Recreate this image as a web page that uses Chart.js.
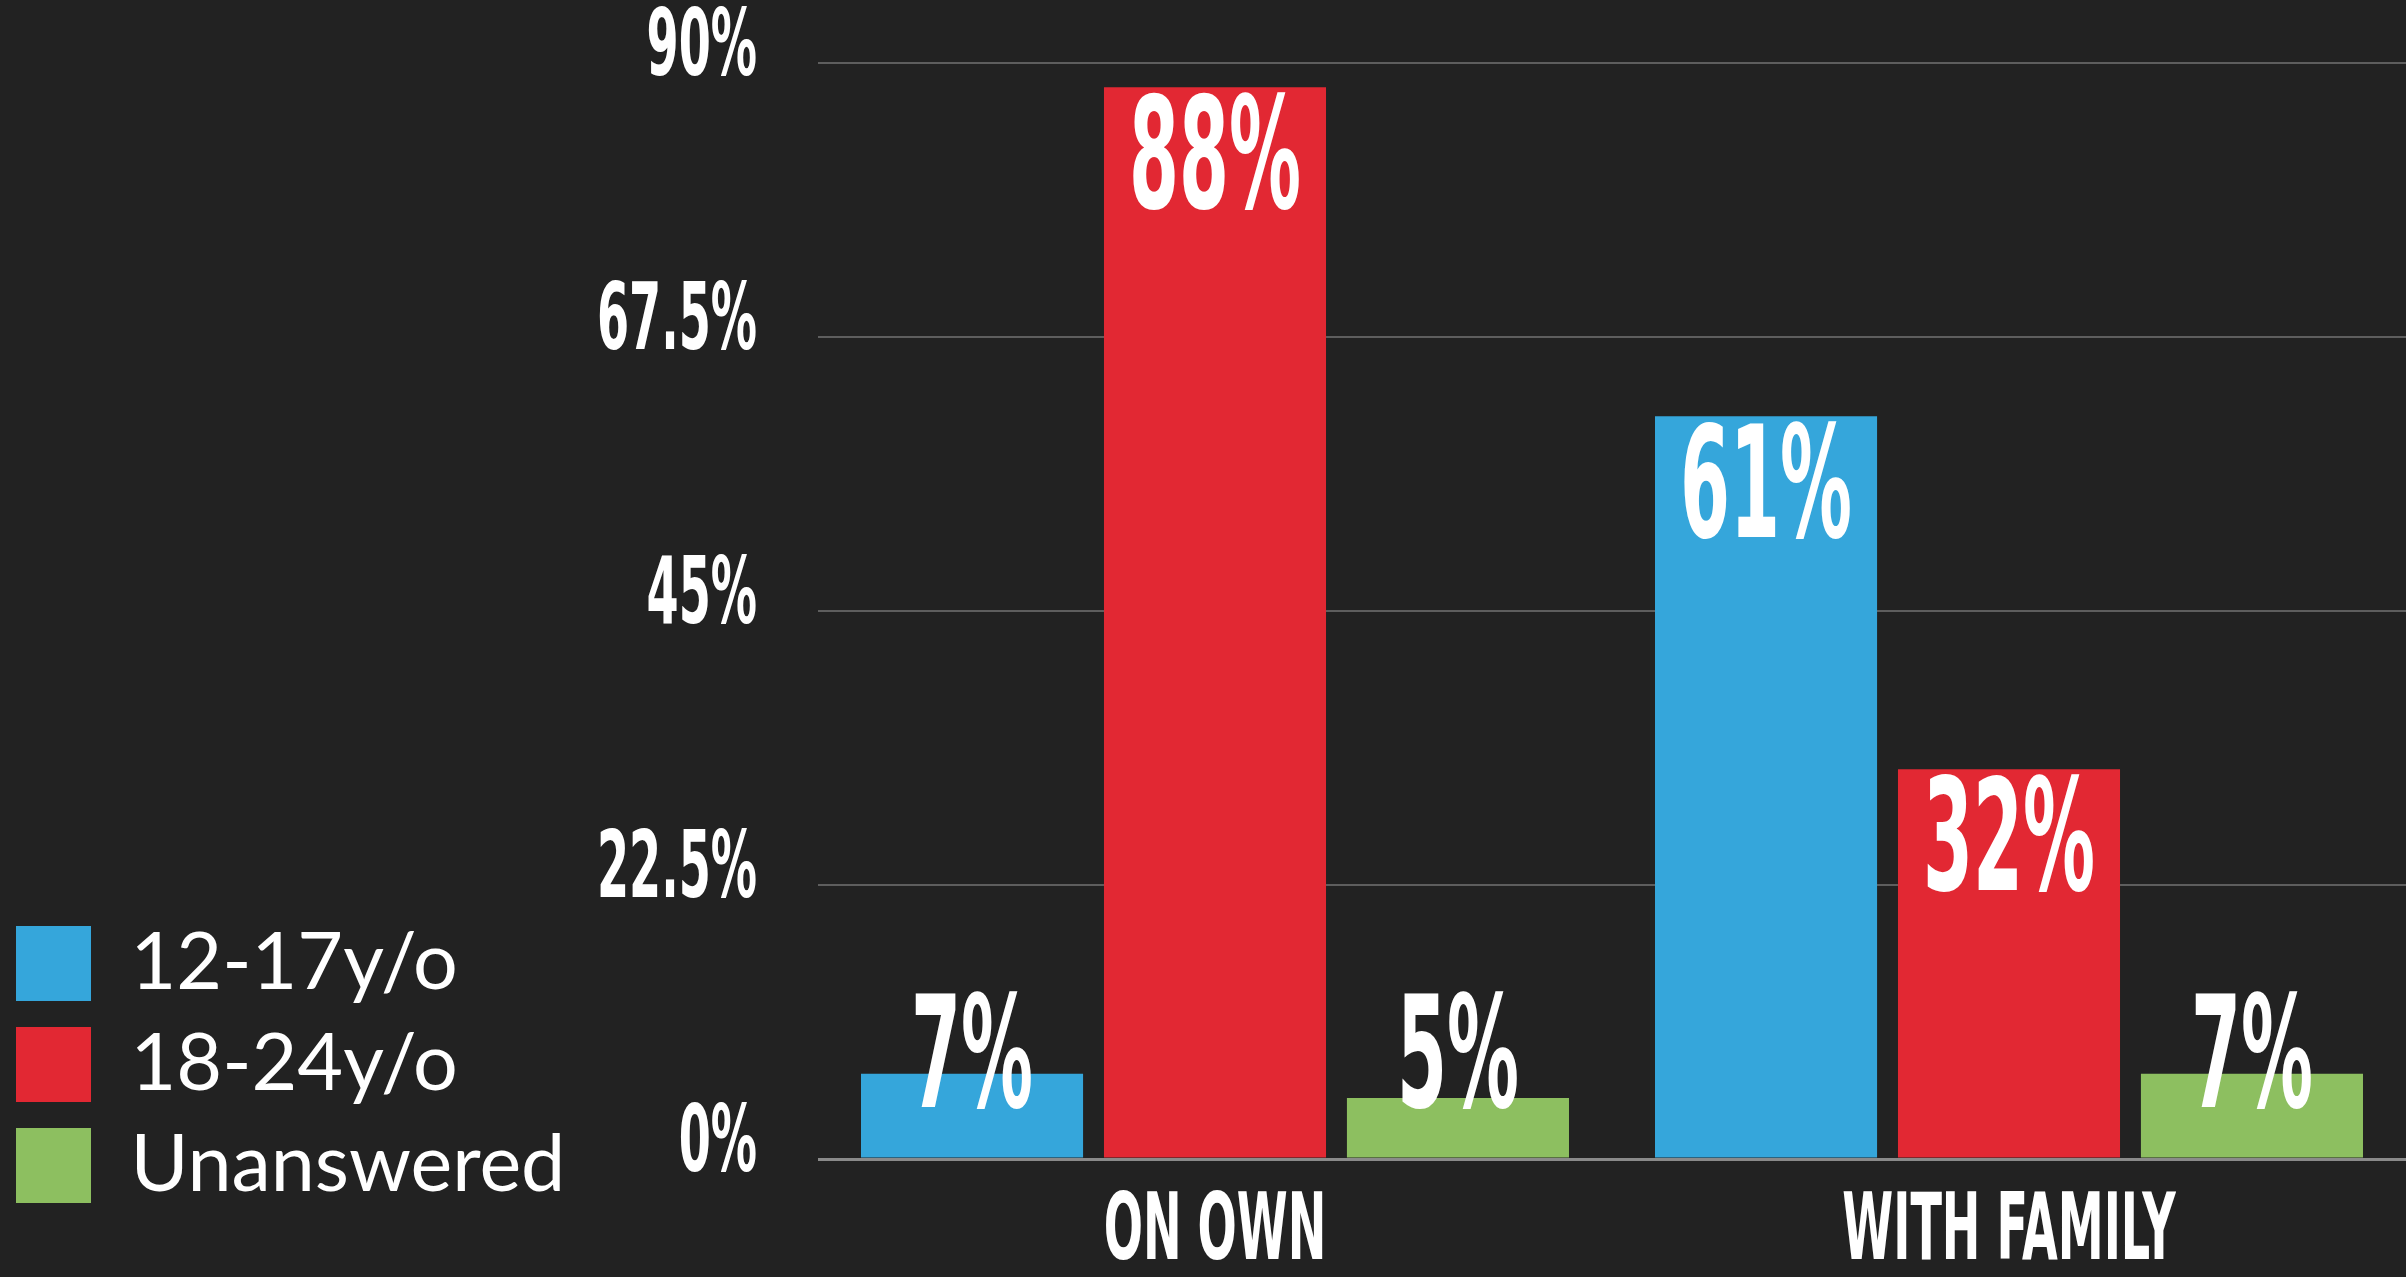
<!DOCTYPE html>
<html><head><meta charset="utf-8">
<script src="https://cdn.jsdelivr.net/npm/chart.js@4/dist/chart.umd.min.js"></script>
<style>html,body{margin:0;padding:0;background:#222222;overflow:hidden}canvas{display:block}</style>
</head><body>
<canvas id="c" width="2406" height="1277"></canvas>
<script>
const categories = ['ON OWN', 'WITH FAMILY'];
const seriesNames = ['12-17y/o', '18-24y/o', 'Unanswered'];
const teenValues = [7, 61];
const youngAdultValues = [88, 32];
const unansweredValues = [5, 7];
const yTickValues = [0, 22.5, 45, 67.5, 90];
const seriesColors = ['#35A6DB', '#E22833', '#8DBF60'];

const CONDENSED = "'Liberation Sans Narrow','DejaVu Sans Condensed','Liberation Sans','DejaVu Sans',sans-serif";
const LEGEND_FONT = "Lato, 'Open Sans', sans-serif";
const PAD_LEFT = -6;
const AREA_LEFT = 818;

const mctx = document.createElement('canvas').getContext('2d');
function measure(size, sample) {
  mctx.font = 'bold ' + size + 'px ' + CONDENSED;
  const m = mctx.measureText(sample);
  return { w: m.width, asc: m.actualBoundingBoxAscent };
}
const capRatio = measure(100, '0').asc / 100;
const TICK_SIZE = 69 / capRatio;
const TICK_K = 160 / measure(TICK_SIZE, '67.5%').w;
const VAL_SIZE = 116 / capRatio;
const VAL_K = 172 / measure(VAL_SIZE, '88%').w;

function compressLabels(scale, k, dy) {
  if (scale.$compressed) return;
  scale.$compressed = true;
  scale._computeLabelArea = () => undefined;
  const origDraw = scale.drawLabels.bind(scale);
  scale.drawLabels = function (area) {
    const items = this.getLabelItems(area);
    const saved = items.map(it => it.options.translation);
    items.forEach(it => { it.options.translation = [it.options.translation[0] / k, it.options.translation[1] + dy]; });
    this.ctx.save();
    this.ctx.scale(k, 1);
    origDraw(area);
    this.ctx.restore();
    items.forEach((it, i) => { it.options.translation = saved[i]; });
  };
}

const condensePlugin = {
  id: 'condense',
  beforeDraw(chart) {
    compressLabels(chart.scales.x, TICK_K, 0);
    compressLabels(chart.scales.y, TICK_K, -12);
  }
};

const valueLabels = {
  id: 'valueLabels',
  afterDatasetsDraw(chart) {
    const ctx = chart.ctx;
    ctx.save();
    ctx.font = 'bold ' + VAL_SIZE + 'px ' + CONDENSED;
    ctx.fillStyle = '#ffffff';
    ctx.textAlign = 'center';
    ctx.textBaseline = 'alphabetic';
    const asc = ctx.measureText('8').actualBoundingBoxAscent;
    chart.data.datasets.forEach((ds, di) => {
      const meta = chart.getDatasetMeta(di);
      meta.data.forEach((bar, i) => {
        const top = Math.min(bar.y + 5, bar.base - 167);
        ctx.save();
        ctx.translate(bar.x, top + asc);
        ctx.scale(VAL_K, 1);
        ctx.fillText(ds.data[i] + '%', 0, 0);
        ctx.restore();
      });
    });
    ctx.restore();
  }
};

const tickFont = { family: CONDENSED, size: TICK_SIZE, weight: 'bold' };

new Chart(document.getElementById('c'), {
  type: 'bar',
  data: {
    labels: categories,
    datasets: [
      { label: seriesNames[0], data: teenValues, backgroundColor: seriesColors[0], borderWidth: 0 },
      { label: seriesNames[1], data: youngAdultValues, backgroundColor: seriesColors[1], borderWidth: 0 },
      { label: seriesNames[2], data: unansweredValues, backgroundColor: seriesColors[2], borderWidth: 0 }
    ]
  },
  options: {
    responsive: false,
    animation: false,
    devicePixelRatio: 1,
    categoryPercentage: 0.918,
    barPercentage: 0.914,
    layout: { padding: { left: PAD_LEFT, right: 0, top: 63, bottom: 50 } },
    plugins: {
      legend: {
        position: 'left',
        align: 'end',
        labels: {
          boxWidth: 75, boxHeight: 75, padding: 22, color: '#ffffff',
          font: { family: LEGEND_FONT, size: 79, weight: 'normal' }
        }
      },
      tooltip: { enabled: false }
    },
    scales: {
      x: {
        grid: { display: false, drawTicks: false },
        border: { display: false },
        ticks: { color: '#ffffff', font: tickFont, padding: 21, maxRotation: 0, autoSkip: false },
        afterFit: s => { s.height = 68; }
      },
      y: {
        min: 0, max: 90,
        afterBuildTicks: s => { s.ticks = yTickValues.map(v => ({ value: v })); },
        grid: {
          drawTicks: false,
          color: c => (c.tick && c.tick.value === 0) ? '#8a8a8a' : '#5e5e5e',
          lineWidth: c => (c.tick && c.tick.value === 0) ? 3 : 2
        },
        border: { display: false },
        ticks: { color: '#ffffff', font: tickFont, padding: 61, callback: v => v + '%' },
        afterFit: s => {
          s.width = AREA_LEFT - PAD_LEFT - (s.chart.legend ? s.chart.legend.width : 0);
          s.paddingTop = 0;
          s.paddingBottom = 0;
        }
      }
    }
  },
  plugins: [condensePlugin, valueLabels]
});
</script>
</body></html>
